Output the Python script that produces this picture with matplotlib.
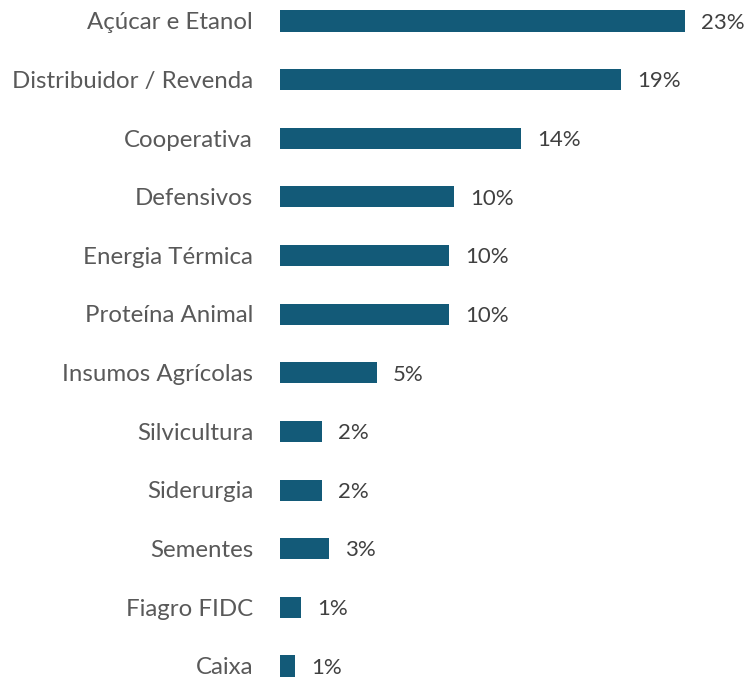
import matplotlib.pyplot as plt

categories = ['Açúcar e Etanol', 'Distribuidor / Revenda', 'Cooperativa', 'Defensivos',
              'Energia Térmica', 'Proteína Animal', 'Insumos Agrícolas', 'Silvicultura',
              'Siderurgia', 'Sementes', 'Fiagro FIDC', 'Caixa']
values = [23.0, 19.4, 13.7, 9.9, 9.6, 9.6, 5.5, 2.4, 2.4, 2.8, 1.2, 0.85]
labels = ['23%', '19%', '14%', '10%', '10%', '10%', '5%', '2%', '2%', '3%', '1%', '1%']

plt.rcParams['font.family'] = ['Lato', 'DejaVu Sans']

fig = plt.figure(figsize=(7.46, 6.8), dpi=100)
ax = fig.add_axes([280 / 746, 0, 440 / 746, 1])

pos = list(range(len(categories)))
ax.barh(pos, values, height=0.36, color='#135a78')
ax.set_xlim(0, 25)
ax.set_ylim(11.239, -0.358)

for y, v, lab in zip(pos, values, labels):
    ax.text(v + 0.9, y + 0.03, lab, va='center', ha='left', fontsize=16, color='#404040')
for y, c in zip(pos, categories):
    ax.text(-1.53, y + 0.03, c, va='center', ha='right', fontsize=17.3, color='#595959')

ax.axis('off')
fig.savefig('out.png', dpi=100)
